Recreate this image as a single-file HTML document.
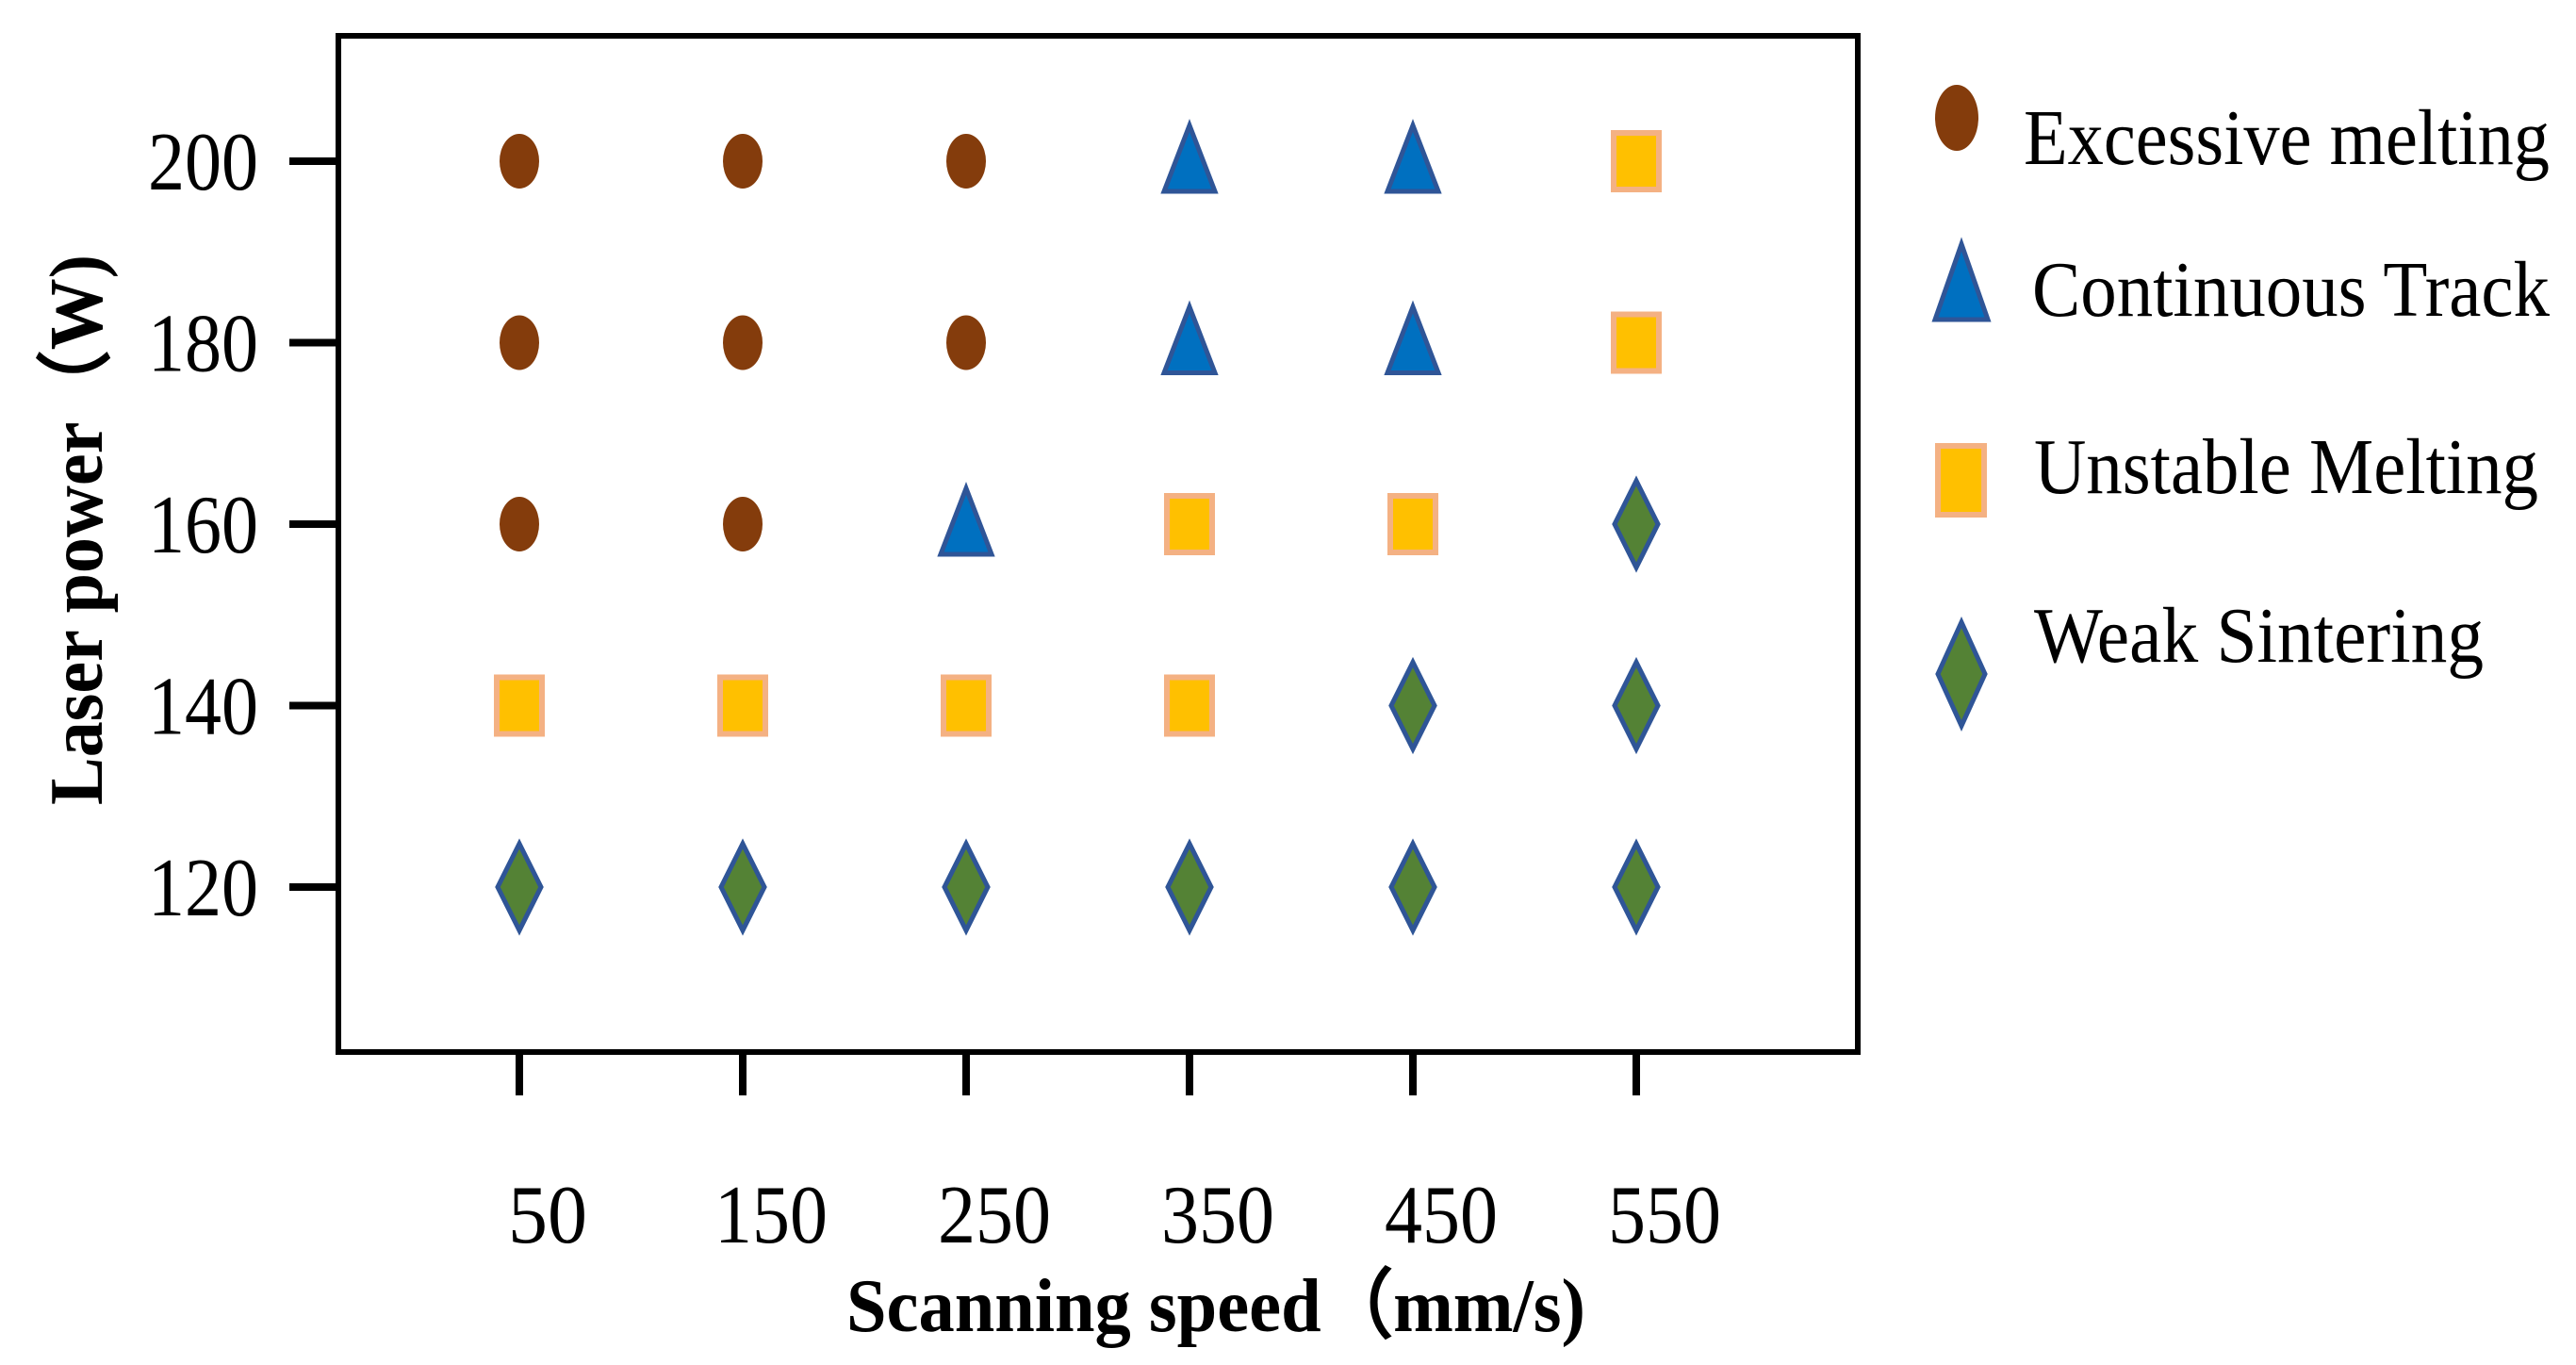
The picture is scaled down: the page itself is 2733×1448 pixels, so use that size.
<!DOCTYPE html>
<html><head><meta charset="utf-8"><style>
html,body{margin:0;padding:0;background:#fff;}
svg{display:block;font-family:"Liberation Serif",serif;}
</style></head><body>
<svg id="chart" width="2733" height="1448" viewBox="0 0 2733 1448">
<rect x="359" y="38" width="1612" height="1078" fill="none" stroke="#000" stroke-width="6"/>
<g id="axes"></g>
<g id="marks"></g>
<text x="1290" y="1412" font-size="80" font-weight="bold" text-anchor="middle" textLength="784" lengthAdjust="spacingAndGlyphs">Scanning speed（mm/s)</text>
<text transform="translate(108,562) rotate(-90)" font-size="80" font-weight="bold" text-anchor="middle" textLength="584" lengthAdjust="spacingAndGlyphs">Laser power（W)</text>
<g>
<g>
<ellipse cx="2076" cy="125" rx="23" ry="35" fill="#843c0c"/>
<text x="2147" y="174" font-size="84" textLength="558" lengthAdjust="spacingAndGlyphs">Excessive melting</text></g>
<g>
<polygon points="2081,259 2109,339 2053,339" fill="#0070c0" stroke="#2f5597" stroke-width="5"/>
<text x="2156" y="335" font-size="84" textLength="549" lengthAdjust="spacingAndGlyphs">Continuous Track</text></g>
<g>
<rect x="2056" y="473" width="49" height="73" fill="#ffc000" stroke="#f4b183" stroke-width="6"/>
<text x="2158" y="523" font-size="84" textLength="535" lengthAdjust="spacingAndGlyphs">Unstable Melting</text></g>
<g>
<polygon points="2081,660 2106,715 2081,770 2056,715" fill="#548235" stroke="#2f5597" stroke-width="5"/>
<text x="2158" y="702" font-size="84" textLength="477" lengthAdjust="spacingAndGlyphs">Weak Sintering</text></g>
</g>
</svg>
<script>
const speeds = [50, 150, 250, 350, 450, 550];
const powers = [120, 140, 160, 180, 200];
const xTickLabels = ["50", "150", "250", "350", "450", "550"];
const yTickLabels = ["120", "140", "160", "180", "200"];
// category codes per power row (index matches powers), per speed column
const row120 = ["W","W","W","W","W","W"];
const row140 = ["U","U","U","U","W","W"];
const row160 = ["E","E","C","U","U","W"];
const row180 = ["E","E","E","C","C","U"];
const row200 = ["E","E","E","C","C","U"];
const rows = [row120, row140, row160, row180, row200];

const NS = "http://www.w3.org/2000/svg";
function xScale(v){ return 551 + (v - 50) * (1736 - 551) / 500; }
function yScale(v){ return 941 + (v - 120) * (171 - 941) / 80; }
function mk(tag, attrs, parent){ const e=document.createElementNS(NS,tag); for(const k in attrs) e.setAttribute(k,attrs[k]); parent.appendChild(e); return e; }

const axes = document.getElementById('axes');
speeds.forEach((s,i)=>{
  const x = xScale(s);
  const t = mk('line',{x1:x,y1:1116,x2:x,y2:1162,stroke:'#000','stroke-width':8},axes);
  
  
  const w = xTickLabels[i].length===2 ? 84 : 120;
  const l = mk('text',{x:x+30,y:1318,'font-size':88,'text-anchor':'middle',textLength:w,lengthAdjust:'spacingAndGlyphs'},axes);
  l.textContent = xTickLabels[i];
  
  
});
powers.forEach((p,i)=>{
  const y = yScale(p);
  const t = mk('line',{x1:307,y1:y,x2:359,y2:y,stroke:'#000','stroke-width':8},axes);
  
  
  const l = mk('text',{x:274,y:y+30,'font-size':88,'text-anchor':'end',textLength:117,lengthAdjust:'spacingAndGlyphs'},axes);
  l.textContent = yTickLabels[i];
  
  
});

const marks = document.getElementById('marks');
rows.forEach((row,ri)=>{
  const y = yScale(powers[ri]);
  row.forEach((c,ci)=>{
    const x = xScale(speeds[ci]);
    let e;
    if(c==='E'){
      e = mk('ellipse',{cx:x,cy:y,rx:21,ry:29,fill:'#843c0c'},marks);
      
    } else if(c==='C'){
      e = mk('polygon',{points:`${x},${y-38} ${x+27},${y+32} ${x-27},${y+32}`,fill:'#0070c0',stroke:'#2f5597','stroke-width':5},marks);
      
    } else if(c==='U'){
      e = mk('rect',{x:x-24,y:y-30,width:48,height:60,fill:'#ffc000',stroke:'#f4b183','stroke-width':6},marks);
      
    } else {
      e = mk('polygon',{points:`${x},${y-46} ${x+23},${y} ${x},${y+46} ${x-23},${y}`,fill:'#548235',stroke:'#2f5597','stroke-width':5},marks);
      
    }
    
  });
});
</script>
</body></html>
